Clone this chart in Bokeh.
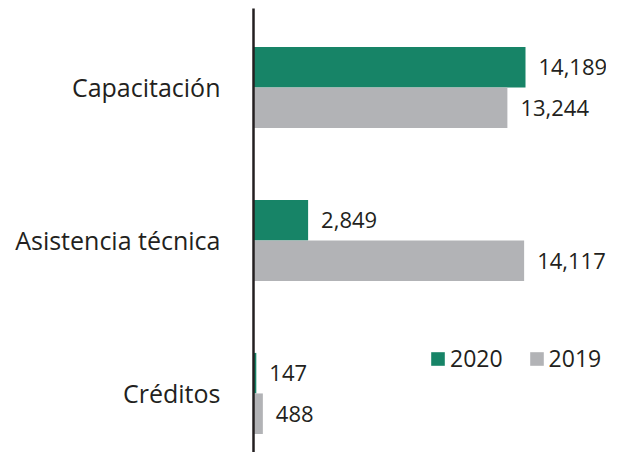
from bokeh.plotting import figure
from bokeh.models import ColumnDataSource, Range1d, Legend, LegendItem, FixedTicker
from bokeh.core.properties import value
from bokeh.embed import file_html
from bokeh.resources import INLINE

categories = ["Capacitación", "Asistencia técnica", "Créditos"]
v2020 = [14189, 2849, 147]
v2019 = [13244, 14117, 488]
series = ["2020", "2019"]
colors = ["#178467", "#b2b3b6"]

FONT = "Open Sans"
TEXT_COLOR = "#231f20"

pos = [2, 1, 0]
bar_h = 0.265

src20 = ColumnDataSource(dict(
    y=[p_ + bar_h / 2 for p_ in pos], v=v2020,
    lab=[f"{v:,}" for v in v2020]))
src19 = ColumnDataSource(dict(
    y=[p_ - bar_h / 2 for p_ in pos], v=v2019,
    lab=[f"{v:,}" for v in v2019]))

p = figure(width=606, height=452, output_backend="svg", toolbar_location=None,
           x_range=Range1d(0, 18414), y_range=Range1d(-0.386, 2.516),
           min_border_left=253, min_border_right=0, min_border_top=8,
           min_border_bottom=0)

r20 = p.hbar(y="y", right="v", left=0, height=bar_h, source=src20,
             fill_color=colors[0], line_color=None)
r19 = p.hbar(y="y", right="v", left=0, height=bar_h, source=src19,
             fill_color=colors[1], line_color=None)

for s in (src20, src19):
    p.text(x="v", y="y", text="lab", source=s, x_offset=13,
           text_align="left", text_baseline="middle",
           text_font=value(FONT), text_font_size="22px", text_color=TEXT_COLOR)

p.xaxis.visible = False
p.xgrid.visible = False
p.ygrid.visible = False
p.outline_line_color = None

yax = p.yaxis[0]
yax.ticker = FixedTicker(ticks=pos)
yax.major_label_overrides = {pp: c for pp, c in zip(pos, categories)}
yax.major_tick_line_color = None
yax.minor_tick_line_color = None
yax.axis_line_color = TEXT_COLOR
yax.axis_line_width = 2.5
yax.major_label_standoff = 27
yax.major_label_text_font = FONT
yax.major_label_text_font_size = "25px"
yax.major_label_text_color = TEXT_COLOR

legend = Legend(items=[LegendItem(label=series[0], renderers=[r20]),
                       LegendItem(label=series[1], renderers=[r19])],
                orientation="horizontal", location=(176, 78),
                padding=0, margin=0, spacing=25, label_standoff=4,
                glyph_width=17, glyph_height=17, label_height=17,
                border_line_color=None, background_fill_alpha=0,
                label_text_font=FONT, label_text_font_size="23px",
                label_text_color=TEXT_COLOR)
p.add_layout(legend)

open("out.html", "w").write(file_html(p, INLINE))
